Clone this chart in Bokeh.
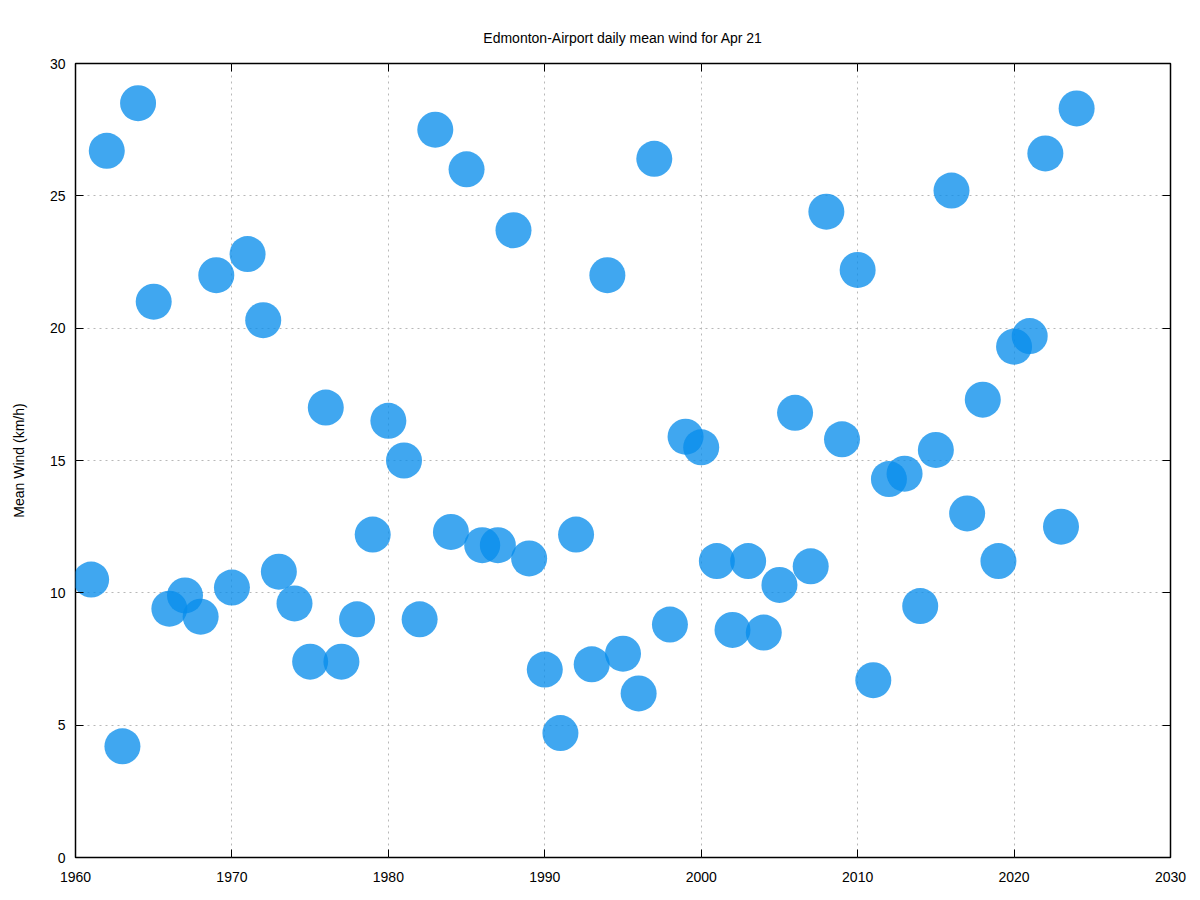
from bokeh.plotting import figure
from bokeh.models import LinearAxis, Range1d, FixedTicker, ColumnDataSource, Title
from bokeh.embed import file_html
from bokeh.resources import INLINE

years = list(range(1961, 2025))
wind = [10.5, 26.7, 4.2, 28.5, 21.0, 9.4, 9.9, 9.1, 22.0, 10.2,
        22.8, 20.3, 10.8, 9.6, 7.4, 17.0, 7.4, 9.0, 12.2, 16.5,
        15.0, 9.0, 27.5, 12.3, 26.0, 11.8, 11.8, 23.7, 11.3, 7.1,
        4.7, 12.2, 7.3, 22.0, 7.7, 6.2, 26.4, 8.8, 15.9, 15.5,
        11.2, 8.6, 11.2, 8.5, 10.3, 16.8, 11.0, 24.4, 15.8, 22.2,
        6.7, 14.3, 14.5, 9.5, 15.4, 25.2, 13.0, 17.3, 11.2, 19.3,
        19.7, 26.6, 12.5, 28.3]
x_ticks = [1960, 1970, 1980, 1990, 2000, 2010, 2020, 2030]
y_ticks = [0, 5, 10, 15, 20, 25, 30]

src = ColumnDataSource(dict(year=years, wind=wind))

p = figure(width=1200, height=900, output_backend="svg", toolbar_location=None,
           x_range=Range1d(1960, 2030), y_range=Range1d(0, 30),
           min_border_left=75, min_border_right=30, min_border_top=63, min_border_bottom=43,
           x_axis_location=None, y_axis_location=None)

font = "Liberation Sans"

p.title = Title(text="Edmonton-Airport daily mean wind for Apr 21", align="center",
                text_font=font, text_font_size="14px", text_font_style="normal",
                text_color="#000000", offset=0, standoff=35)

def mk_axis(ticks, labels=True):
    ax = LinearAxis(ticker=FixedTicker(ticks=ticks))
    ax.major_tick_in = 8
    ax.major_tick_out = 0
    ax.minor_tick_in = 0
    ax.minor_tick_out = 0
    ax.axis_line_color = None
    ax.major_tick_line_color = "#000000"
    ax.major_label_text_font = font
    ax.major_label_text_font_size = "14px"
    ax.major_label_text_color = "#000000"
    if not labels:
        ax.major_label_text_font_size = "0px"
        ax.major_label_text_alpha = 0
    return ax

xb = mk_axis(x_ticks)
xb.major_label_standoff = 14
p.add_layout(xb, "below")
yl = mk_axis(y_ticks)
yl.major_label_standoff = 10
yl.axis_label = "Mean Wind (km/h)"
yl.axis_label_text_font = font
yl.axis_label_text_font_size = "14px"
yl.axis_label_text_font_style = "normal"
yl.axis_label_text_color = "#000000"
yl.axis_label_standoff = 20
p.add_layout(yl, "left")
xt = mk_axis(x_ticks, labels=False)
p.add_layout(xt, "above")
yr = mk_axis(y_ticks, labels=False)
p.add_layout(yr, "right")

p.xgrid.ticker = FixedTicker(ticks=x_ticks)
p.ygrid.ticker = FixedTicker(ticks=y_ticks)
for g in (p.xgrid, p.ygrid):
    g.grid_line_color = "#b8b8b8"
    g.grid_line_dash = "2 4"
    g.grid_line_width = 1

p.outline_line_color = "#000000"
p.outline_line_width = 1.5
p.background_fill_color = "white"
p.border_fill_color = "white"

p.scatter("year", "wind", source=src, size=36, fill_color="#078ceb", fill_alpha=0.77,
          line_color=None)

open("out.html", "w").write(file_html(p, INLINE))
